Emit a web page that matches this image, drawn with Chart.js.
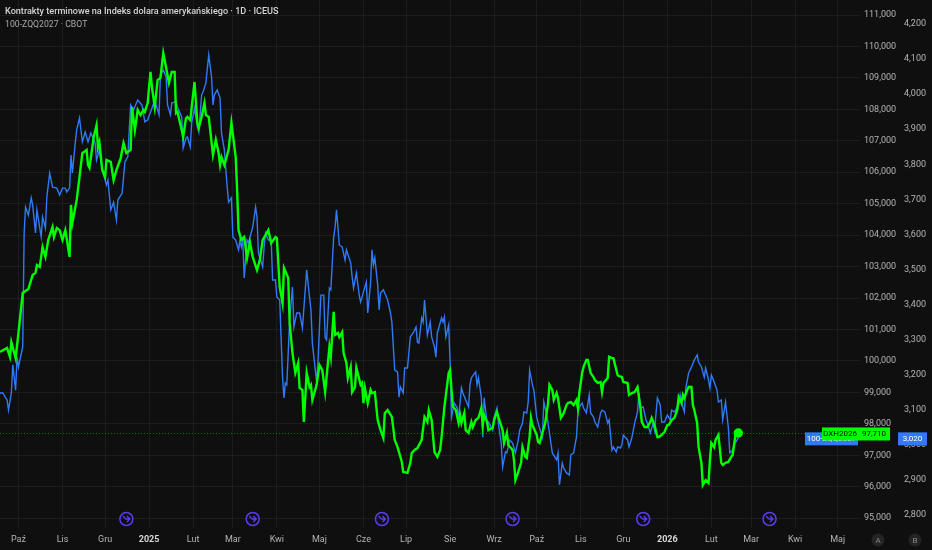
<!DOCTYPE html>
<html lang="pl">
<head>
<meta charset="utf-8">
<title>DXH2026 / 100-ZQQ2027</title>
<script src="https://cdn.jsdelivr.net/npm/chart.js"></script>
<style>
  html, body { margin: 0; padding: 0; background: #0f0f0f; }
  #wrap { position: relative; width: 932px; height: 550px; }
  #legend { position: absolute; left: 5px; top: 5px; font-family: Roboto, "Noto Sans", sans-serif; pointer-events: none; }
  #legend .l1 { font-size: 9.1px; font-weight: 500; color: #d6d6d6; line-height: 13px; }
  #legend .l2 { font-size: 8.7px; color: #a8a8a8; line-height: 13px; }
</style>
</head>
<body>
<div id="wrap">
  <canvas id="chart" width="932" height="550"></canvas>
  <div id="legend">
    <div class="l1">Kontrakty terminowe na Indeks dolara amerykańskiego · 1D · ICEUS</div>
    <div class="l2">100-ZQQ2027 · CBOT</div>
  </div>
</div>
<script>
// days counted from 2024-09-01
var greenName = 'DXH2026';
var blueName = '100-ZQQ2027';

var monthLabels = ['Paź', 'Lis', 'Gru', '2025', 'Lut', 'Mar', 'Kwi', 'Maj', 'Cze', 'Lip', 'Sie', 'Wrz',
    'Paź', 'Lis', 'Gru', '2026', 'Lut', 'Mar', 'Kwi', 'Maj'];
var greenTicks = [95, 96, 97, 98, 99, 100, 101, 102, 103, 104, 105, 106, 107, 108, 109, 110, 111];
var blueTicks = [2.8, 2.9, 3.0, 3.1, 3.2, 3.3, 3.4, 3.5, 3.6, 3.7, 3.8, 3.9, 4.0, 4.1, 4.2];
var rollDays = [106, 195, 286, 378, 470, 559];

var greenDay = [17, 22, 24, 25, 28, 30, 33, 37, 40, 42, 43, 45, 47, 49, 51, 54, 55, 57, 59, 61,
    63, 66, 67, 68, 71, 73, 75, 78, 79, 80, 83, 85, 86, 87, 89, 91, 92, 95, 97, 99,
    102, 104, 106, 109, 110, 112, 114, 116, 118, 119, 121, 123, 124, 126, 128, 130, 132, 135, 136, 138,
    140, 141, 142, 145, 146, 148, 149, 151, 152, 154, 156, 157, 159, 161, 162, 164, 167, 169, 171, 172,
    173, 175, 178, 180, 183, 184, 185, 187, 189, 191, 193, 195, 198, 200, 202, 204, 206, 208, 211, 212,
    214, 216, 217, 220, 221, 223, 225, 227, 228, 230, 231, 233, 235, 236, 237, 240, 242, 244, 246, 249,
    250, 252, 253, 255, 256, 258, 259, 261, 262, 264, 265, 267, 268, 271, 272, 273, 274, 276, 278, 279,
    281, 283, 285, 287, 288, 290, 293, 295, 297, 299, 300, 301, 304, 306, 307, 309, 311, 314, 316, 318,
    319, 321, 323, 325, 327, 328, 330, 333, 334, 335, 336, 338, 340, 341, 342, 344, 345, 347, 349, 350,
    352, 354, 356, 357, 358, 360, 361, 364, 365, 367, 368, 371, 372, 374, 375, 378, 379, 380, 382, 384,
    385, 387, 388, 390, 391, 392, 395, 396, 397, 399, 401, 403, 404, 406, 407, 409, 410, 412, 414, 416,
    417, 419, 421, 423, 424, 425, 427, 428, 430, 431, 433, 435, 436, 438, 440, 441, 442, 445, 446, 448,
    449, 452, 453, 455, 456, 459, 460, 462, 464, 466, 468, 469, 471, 473, 475, 476, 478, 480, 481, 483,
    485, 487, 488, 490, 492, 494, 495, 497, 498, 499, 501, 502, 504, 505, 506, 508, 509, 511, 512, 514,
    516, 517, 518, 520, 521, 523, 525, 526, 528, 530, 532, 533, 535, 537];
var greenVal = [100.29, 100.41, 100.13, 100.60, 100.09, 100.89, 102.16, 102.29, 102.73, 102.80,
    103.05, 102.99, 103.62, 103.31, 103.85, 104.26, 103.94, 104.23, 104.16, 103.85,
    104.16, 103.31, 104.96, 104.39, 105.12, 105.85, 106.61, 106.71, 106.23, 106.14,
    107.12, 107.50, 106.80, 106.96, 106.07, 105.85, 106.39, 106.33, 105.75, 106.07,
    106.45, 106.93, 106.61, 106.71, 108.07, 107.34, 107.98, 107.82, 107.98,
    107.92, 108.20, 109.19, 108.71, 108.07, 108.93, 109.00, 109.79, 109.09, 108.84,
    109.19, 109.19, 107.88, 107.92, 107.34, 107.12, 107.72, 107.76, 107.66, 108.07,
    108.87, 107.57, 107.41, 107.76, 108.20, 107.82, 107.76, 106.55, 107.03, 106.61,
    106.23, 106.48, 106.23, 106.71, 107.57, 106.48, 105.44, 104.16, 103.85, 103.94,
    103.27, 103.78, 103.31, 102.89, 103.21, 103.85, 104.00, 104.16, 103.75, 103.94,
    103.91, 102.35, 101.84, 102.96, 102.64, 101.21, 100.25, 99.62, 99.93,
    99.14, 99.08, 98.06, 99.62, 99.17, 99.24, 98.76, 99.24, 99.87, 99.71,
    99.01, 100.44, 100.13, 101.56, 100.83, 100.89, 100.76, 100.92, 100.25, 99.93,
    99.46, 99.81, 99.01, 99.17, 99.78, 99.24, 99.30, 98.66, 99.14, 98.66,
    99.08, 98.98, 99.01, 98.12, 97.80, 97.55, 98.34, 98.44, 98.22, 97.49,
    97.26, 96.95, 96.79, 96.47, 96.44, 96.76, 97.07, 97.17, 97.23, 97.49,
    98.22, 98.06, 98.44, 98.12, 97.10, 96.95, 97.17, 97.58, 98.54,
    99.62, 99.71, 99.08, 98.54, 98.44, 98.03, 98.28, 98.03, 98.34, 97.80,
    97.71, 98.06, 97.90, 98.12, 98.19, 98.50, 97.96, 98.28, 98.06, 97.80,
    97.87, 98.12, 98.38, 98.22, 97.80, 97.39, 97.71, 97.33, 97.17, 96.85,
    96.21, 96.47, 96.76, 97.26, 96.95, 96.91, 97.58, 98.19, 97.96, 97.65,
    97.42, 97.39, 97.71, 98.03, 98.66, 99.24, 99.08, 98.76, 98.98, 98.82,
    98.19, 98.34, 98.60, 98.66, 98.69, 98.60, 98.76, 98.50, 98.98, 99.62,
    99.81, 100.03, 100.03, 99.62, 99.49,
    99.39, 99.30, 99.33, 99.01, 99.30, 99.46, 100.13, 100.09, 100.09, 99.55,
    99.52, 99.49, 99.33, 99.30, 98.92, 98.98, 99.01, 99.17, 98.54, 98.06,
    97.90, 97.90, 98.06, 98.19, 97.96, 97.58, 97.58, 97.65, 97.74, 97.96,
    97.96, 98.12, 98.19, 98.44, 98.85, 98.66, 98.92, 98.82, 99.08, 99.17,
    99.17, 98.60, 98.44, 98.03, 97.26, 96.76, 96.05, 96.21, 96.12, 96.85,
    97.39, 97.26, 97.49, 97.65, 96.76, 96.69, 96.76, 96.79, 96.95, 97.01,
    97.65, 97.71];

var blueDay = [17, 19, 21, 22, 23, 25, 26, 28, 29, 30, 33, 34, 35, 37, 39, 40, 42, 43, 46, 47,
    49, 50, 52, 54, 57, 59, 61, 63, 64, 66, 67, 68, 70, 71, 73, 75, 77, 79, 81, 84,
    85, 87, 89, 92, 93, 95, 97, 99, 100, 103, 105, 107, 109, 111, 114, 117,
    119, 121, 124, 126, 129, 130, 132, 134, 135, 137, 138, 141, 142, 145, 146, 148, 149, 151, 152, 154,
    156, 157, 159, 160, 162, 164, 166, 167, 168, 170, 172, 173, 175, 177, 178, 180, 181, 183, 185, 186,
    187, 188, 189, 191, 192, 195, 197, 198, 199, 202, 203, 204, 206, 208, 209, 211, 212, 214, 216, 217,
    218, 219, 221, 223, 224, 226,
    228, 230, 233, 235, 236, 237, 240, 241, 243, 245, 246, 247, 249, 250, 252, 253, 254, 256, 258, 260,
    261, 264, 265, 266, 268, 270, 271, 273, 275, 276, 278, 279, 280, 281, 283, 284, 285, 287, 290, 292,
    293, 295, 297, 298, 299, 301, 302, 304, 306, 308, 310, 311, 312, 314, 315, 316, 318, 320, 321, 323,
    324, 325, 328, 329, 330, 331, 333,
    334, 335, 337, 339, 340, 342, 343, 345, 347, 348, 349, 352, 353, 354, 356, 357, 358, 360, 361, 364,
    365, 367, 368, 370, 371, 373, 374, 376, 378, 380, 382, 383, 385, 386, 388, 389, 390, 392, 393, 395,
    397, 399, 400, 402, 403, 405, 406, 409, 410, 411, 413, 414, 416, 418, 419, 421, 423, 424, 425, 427,
    428, 430, 432, 433, 435,
    436, 438, 440, 441, 443, 445, 446, 448, 449, 451, 452, 454, 455, 456, 459, 460, 462, 464, 466, 467,
    468, 470, 472, 473, 475, 477, 478, 480, 482, 483, 485, 487, 489, 490, 492, 495, 496, 497, 499, 500,
    502, 503, 504, 506, 508, 509, 511, 513, 514, 516, 517, 518, 520, 522, 523, 525, 526, 528, 530, 531,
    533, 534, 537];
var blueVal = [3.148, 3.148, 3.134, 3.128, 3.099, 3.148, 3.228, 3.156, 3.250, 3.222,
    3.279, 3.604, 3.678, 3.655, 3.704, 3.684, 3.604, 3.670, 3.593, 3.650,
    3.618, 3.707, 3.775, 3.735, 3.732, 3.712, 3.732, 3.732, 3.721, 3.732,
    3.826, 3.775, 3.861, 3.898, 3.932, 3.864, 3.892, 3.864, 3.889, 3.861,
    3.812, 3.841, 3.784, 3.741, 3.755, 3.670, 3.692, 3.641, 3.698, 3.718,
    3.807, 3.821, 3.969, 3.955, 3.983, 3.969,
    3.921, 3.926, 3.960, 3.983, 3.941, 4.055, 4.069, 4.049, 3.969, 3.941,
    3.975, 3.978, 3.963, 3.935, 3.846, 3.875, 3.878, 3.849, 3.918, 3.960,
    3.906, 3.892, 3.998, 4.006, 4.032, 4.112, 4.049, 3.969, 3.998, 4.012,
    3.989, 3.889, 3.841, 3.735, 3.692, 3.704, 3.593, 3.584, 3.556, 3.584,
    3.564, 3.584, 3.476, 3.584, 3.576, 3.621, 3.678, 3.650, 3.547, 3.507,
    3.564, 3.604, 3.584, 3.584, 3.470, 3.470, 3.422, 3.413, 3.193, 3.134,
    3.176, 3.171, 3.356, 3.450, 3.336, 3.376,
    3.376, 3.333, 3.499, 3.422, 3.385, 3.290, 3.179, 3.242, 3.427, 3.427,
    3.305, 3.299, 3.447, 3.442, 3.593, 3.621, 3.670, 3.570, 3.564, 3.527,
    3.556, 3.519, 3.479, 3.447, 3.490, 3.427, 3.407, 3.436, 3.464, 3.376,
    3.461, 3.556, 3.513, 3.533, 3.456, 3.385, 3.433, 3.442, 3.413, 3.376,
    3.350, 3.213, 3.208, 3.136, 3.165, 3.148, 3.219, 3.219, 3.308, 3.319,
    3.336, 3.293, 3.290, 3.362, 3.350, 3.413, 3.313, 3.350, 3.308, 3.279,
    3.250, 3.319, 3.362, 3.350, 3.365, 3.308, 3.342,
    3.233, 3.079, 3.119, 3.105, 3.077, 3.162, 3.148, 3.128, 3.108, 3.171,
    3.191, 3.208, 3.171, 3.191, 3.136, 3.022, 3.134, 3.065, 3.065, 3.042,
    3.079, 3.105, 3.062, 3.005, 2.937, 2.980, 2.977, 3.014, 3.005, 2.977,
    3.014, 3.042, 3.062, 3.094, 3.091, 3.122, 3.213, 3.171, 3.156, 3.079,
    3.048, 3.022, 3.122, 3.085, 3.062, 3.005, 2.977, 2.957, 2.977, 2.886,
    2.948, 2.934, 2.920, 2.914, 2.971, 2.977, 3.022, 3.091, 3.108, 3.119,
    3.105, 3.091, 3.142, 3.091, 3.079,
    3.065, 3.051, 3.091, 3.099, 3.094, 3.062, 3.071, 2.985, 2.994, 2.980,
    2.994, 2.991, 3.000, 3.028, 3.014, 2.994, 3.020, 3.062, 3.094, 3.148,
    3.105, 3.108, 3.071, 3.062, 3.034, 3.062, 3.042, 3.134, 3.114, 3.065,
    3.065, 3.085, 3.071, 3.099, 3.094, 3.114, 3.142, 3.119, 3.094, 3.162,
    3.205, 3.213, 3.222, 3.242, 3.256, 3.236, 3.222, 3.193, 3.219, 3.185,
    3.162, 3.199, 3.179, 3.156, 3.122, 3.128, 3.071, 3.122, 3.048, 2.977,
    2.985, 3.000, 3.020];

var GREEN = '#00ff00';
var BLUE = '#3179f5';
var FONT = 'Roboto, "Noto Sans", sans-serif';

var origin = Date.UTC(2024, 8, 1);
var monthDays = monthLabels.map(function (l, i) {
    return Math.round((Date.UTC(2024, 9 + i, 1) - origin) / 864e5);
});

function fmt(v) {
    return v.toFixed(3).replace('.', ',');
}

function toPoints(days, vals) {
    return days.map(function (d, i) { return { x: d, y: vals[i] }; });
}

function tag(ctx, x, y, w, text, bg, fg) {
    ctx.fillStyle = bg;
    ctx.fillRect(x, y - 5.5, w, 13);
    ctx.fillStyle = fg;
    ctx.fillText(text, x + w / 2, y + 1.5);
}

// no outer padding: the plot runs to the canvas edge, axes keep a fixed size
function noPad(sc) {
    sc.paddingLeft = 0;
    sc.paddingRight = 0;
    sc.paddingTop = 0;
    sc.paddingBottom = 0;
}

var overlay = {
    id: 'overlay',
    beforeDraw: function (chart) {
        var c = chart.ctx;
        c.save();
        c.fillStyle = '#0f0f0f';
        c.fillRect(0, 0, chart.width, chart.height);
        c.restore();
    },
    afterDatasetsDraw: function (chart) {
        var c = chart.ctx, a = chart.chartArea;
        var yG = chart.scales.yA.getPixelForValue(greenVal[greenVal.length - 1]);
        c.save();
        c.strokeStyle = 'rgba(0, 200, 0, 0.55)';
        c.lineWidth = 1;
        c.setLineDash([1, 2]);
        c.beginPath();
        c.moveTo(a.left, Math.round(yG) + 0.5);
        c.lineTo(a.right, Math.round(yG) + 0.5);
        c.stroke();
        c.restore();
    },
    afterDraw: function (chart) {
        var c = chart.ctx, a = chart.chartArea, s = chart.scales;
        c.save();
        // contract roll markers
        rollDays.forEach(function (d) {
            var cx = s.x.getPixelForValue(d), cy = a.bottom - 9;
            c.strokeStyle = '#5a3cf0';
            c.lineWidth = 1.5;
            c.beginPath();
            c.arc(cx, cy, 6.5, 0, Math.PI * 2);
            c.stroke();
            c.lineWidth = 1.3;
            c.beginPath();
            c.moveTo(cx - 3.5, cy - 3);
            c.lineTo(cx - 0.5, cy);
            c.lineTo(cx + 3.5, cy);
            c.moveTo(cx + 0.5, cy - 3);
            c.lineTo(cx + 3.5, cy);
            c.lineTo(cx + 0.5, cy + 3);
            c.stroke();
        });

        // price tags
        var yG = s.yA.getPixelForValue(greenVal[greenVal.length - 1]);
        var yB = s.yB.getPixelForValue(blueVal[blueVal.length - 1]);
        c.font = '8px ' + FONT;
        c.textAlign = 'center';
        c.textBaseline = 'middle';
        tag(c, s.yA.left - 55, yB, 53, blueName, BLUE, '#ffffff');
        tag(c, s.yB.left - 2, yB, 29, fmt(blueVal[blueVal.length - 1]), BLUE, '#ffffff');
        tag(c, s.yA.left - 38, yG, 36, greenName, GREEN, '#000000');
        tag(c, s.yA.left - 2, yG, 32, fmt(greenVal[greenVal.length - 1]), GREEN, '#000000');

        // scale buttons
        [[s.yA.left + 18, 'A'], [s.yB.left + 15, 'B']].forEach(function (b) {
            c.fillStyle = '#242424';
            c.beginPath();
            c.arc(b[0], 540, 6.5, 0, Math.PI * 2);
            c.fill();
            c.fillStyle = '#8a8a8a';
            c.font = '8px ' + FONT;
            c.fillText(b[1], b[0], 540.5);
        });
        c.restore();
    }
};

var grid = 'rgba(255, 255, 255, 0.055)';

new Chart(document.getElementById('chart').getContext('2d'), {
    type: 'line',
    data: {
        datasets: [{
            label: greenName,
            data: toPoints(greenDay, greenVal),
            yAxisID: 'yA',
            borderColor: GREEN,
            backgroundColor: GREEN,
            borderWidth: 2.4,
            pointRadius: function (ctx) { return ctx.dataIndex === greenVal.length - 1 ? 3.5 : 0; },
            tension: 0
        }, {
            label: blueName,
            data: toPoints(blueDay, blueVal),
            yAxisID: 'yB',
            borderColor: BLUE,
            borderWidth: 1.4,
            pointRadius: 0,
            tension: 0
        }]
    },
    options: {
        responsive: false,
        animation: false,
        layout: { padding: 0, autoPadding: false },
        plugins: {
            legend: { display: false },
            tooltip: { enabled: false }
        },
        scales: {
            x: {
                type: 'linear',
                min: 17,
                max: 622.7,
                afterBuildTicks: function (sc) { sc.ticks = monthDays.map(function (v) { return { value: v }; }); },
                afterFit: function (sc) { sc.height = 22; noPad(sc); },
                grid: { color: grid, drawTicks: false },
                border: { display: false },
                ticks: {
                    autoSkip: false,
                    maxRotation: 0,
                    padding: 6,
                    color: function (ctx) { return /^\d/.test(monthLabels[ctx.index]) ? '#d8d8d8' : '#b4b4b4'; },
                    font: function (ctx) {
                        return { family: FONT, size: 9, weight: /^\d/.test(monthLabels[ctx.index]) ? 'bold' : 'normal' };
                    },
                    callback: function (v, i) { return monthLabels[i]; }
                }
            },
            yA: {
                type: 'linear',
                position: 'right',
                min: 94.688,
                max: 111.477,
                afterBuildTicks: function (sc) { sc.ticks = greenTicks.map(function (v) { return { value: v }; }); },
                afterFit: function (sc) { sc.width = 40; noPad(sc); },
                grid: { color: grid, drawTicks: false },
                border: { display: false },
                ticks: {
                    autoSkip: false,
                    padding: 4,
                    color: '#b4b4b4',
                    font: { family: FONT, size: 9 },
                    callback: function (v) { return fmt(v); }
                }
            },
            yB: {
                type: 'linear',
                position: 'right',
                min: 2.7629,
                max: 4.2684,
                afterBuildTicks: function (sc) { sc.ticks = blueTicks.map(function (v) { return { value: v }; }); },
                afterFit: function (sc) { sc.width = 32; noPad(sc); },
                grid: { display: false, drawTicks: false },
                border: { display: false },
                ticks: {
                    autoSkip: false,
                    padding: 4,
                    color: '#b4b4b4',
                    font: { family: FONT, size: 9 },
                    callback: function (v) { return fmt(v); }
                }
            }
        }
    },
    plugins: [overlay]
});
</script>
</body>
</html>
